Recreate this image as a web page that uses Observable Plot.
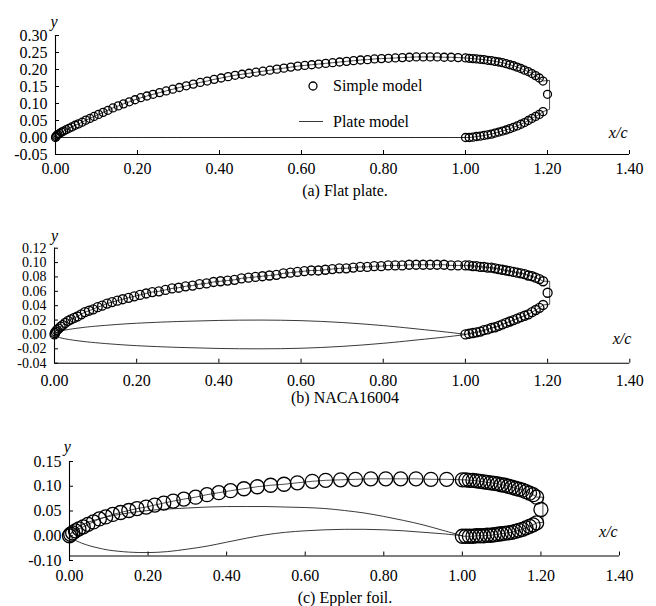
<!DOCTYPE html>
<html>
<head>
<meta charset="utf-8">
<script src="https://cdn.jsdelivr.net/npm/d3@7"></script>
<script src="https://cdn.jsdelivr.net/npm/@observablehq/plot@0.6"></script>
<style>
  body { margin: 0; background: #fff; }
  #fig { position: relative; width: 656px; height: 606px; overflow: hidden;
         font-family: "Liberation Serif", "Times New Roman", serif; color: #000; }
  .panel { position: absolute; left: 0; }
  .caption { position: absolute; left: 225px; width: 240px; text-align: center;
             font-size: 16px; line-height: 20px; }
  #legend { position: absolute; left: 0; top: 0; }
</style>
</head>
<body>
<div id="fig"></div>
<script>
// ---- shared axes ----
const xTickValues = [0, 0.2, 0.4, 0.6, 0.8, 1.0, 1.2, 1.4];
const xTickLabels = ["0.00", "0.20", "0.40", "0.60", "0.80", "1.00", "1.20", "1.40"];

// chordwise stations of the simple-model body (upper side, flat plate and NACA16004)
const bodyUpperX = [0, 0.001, 0.003, 0.006, 0.01, 0.015, 0.02, 0.026, 0.033, 0.04,
  0.048, 0.056, 0.065, 0.074, 0.084, 0.094, 0.105, 0.116, 0.128, 0.14,
  0.153, 0.166, 0.18, 0.194, 0.208, 0.223, 0.238, 0.254, 0.27, 0.286,
  0.302, 0.319, 0.336, 0.353, 0.37, 0.387, 0.404, 0.421, 0.438, 0.455,
  0.472, 0.489, 0.506, 0.523, 0.54, 0.557, 0.574, 0.591, 0.608, 0.625,
  0.642, 0.659, 0.676, 0.693, 0.71, 0.727, 0.744, 0.761, 0.778, 0.795,
  0.812, 0.829, 0.846, 0.863, 0.88, 0.897, 0.914, 0.931, 0.948, 0.965,
  0.982, 1.0];
// stations behind the trailing edge (cavity closure region)
const wakeUpperX = [1.009, 1.018, 1.027, 1.036, 1.045, 1.054, 1.063, 1.072, 1.081, 1.09,
  1.099, 1.108, 1.117, 1.126, 1.135, 1.144, 1.153, 1.162, 1.171, 1.18, 1.189];
const wakeLowerX = [1.0, 1.009, 1.018, 1.027, 1.036, 1.045, 1.054, 1.063, 1.072, 1.081, 1.09,
  1.099, 1.108, 1.117, 1.126, 1.135, 1.144, 1.153, 1.162, 1.171, 1.18, 1.189];
const tipX = 1.2;
const rearX = [1.205, 1.205];

// ---- (a) Flat plate ----
const flatYTicks = [-0.05, 0, 0.05, 0.1, 0.15, 0.2, 0.25, 0.3];
const flatYLabels = ["-0.05", "0.00", "0.05", "0.10", "0.15", "0.20", "0.25", "0.30"];
const flatUpperY = [0, 0.003, 0.006, 0.009, 0.012, 0.016, 0.019, 0.023, 0.027, 0.031,
  0.036, 0.040, 0.045, 0.051, 0.056, 0.062, 0.068, 0.074, 0.080, 0.087,
  0.093, 0.099, 0.105, 0.111, 0.117, 0.122, 0.127, 0.132, 0.137, 0.142,
  0.147, 0.152, 0.157, 0.162, 0.166, 0.171, 0.175, 0.179, 0.183, 0.186,
  0.189, 0.192, 0.195, 0.198, 0.201, 0.204, 0.207, 0.210, 0.212, 0.214,
  0.216, 0.218, 0.220, 0.222, 0.224, 0.226, 0.228, 0.229, 0.231, 0.232,
  0.233, 0.234, 0.235, 0.236, 0.237, 0.237, 0.237, 0.237, 0.236, 0.236,
  0.235, 0.234];
const flatWakeUpperY = [0.233, 0.232, 0.231, 0.230, 0.229, 0.227, 0.226, 0.224, 0.222, 0.220,
  0.217, 0.214, 0.211, 0.207, 0.203, 0.198, 0.194, 0.188, 0.182, 0.175, 0.166];
const flatTipY = 0.127;
const flatWakeLowerY = [0.000, 0.000, 0.001, 0.003, 0.004, 0.006, 0.008, 0.010, 0.013, 0.016, 0.019,
  0.022, 0.026, 0.030, 0.034, 0.039, 0.044, 0.050, 0.056, 0.062, 0.068, 0.076];
const flatRearY = [0.168, 0.083];
const flatFoilX = [0, 1.0];
const flatFoilUpperY = [0, 0];
const flatFoilLowerY = [0, 0];

// ---- (b) NACA16004 ----
const nacaYTicks = [-0.04, -0.02, 0, 0.02, 0.04, 0.06, 0.08, 0.1, 0.12];
const nacaYLabels = ["-0.04", "-0.02", "0.00", "0.02", "0.04", "0.06", "0.08", "0.10", "0.12"];
const nacaUpperY = [0, 0.002, 0.004, 0.006, 0.008, 0.011, 0.013, 0.016, 0.019, 0.021,
  0.023, 0.025, 0.028, 0.031, 0.033, 0.035, 0.038, 0.040, 0.043, 0.045,
  0.047, 0.049, 0.051, 0.053, 0.055, 0.057, 0.059, 0.060, 0.062, 0.064,
  0.065, 0.067, 0.068, 0.070, 0.071, 0.073, 0.074, 0.075, 0.076, 0.078,
  0.079, 0.080, 0.081, 0.082, 0.083, 0.085, 0.086, 0.087, 0.088, 0.089,
  0.089, 0.090, 0.091, 0.092, 0.092, 0.093, 0.094, 0.094, 0.095, 0.095,
  0.096, 0.096, 0.096, 0.097, 0.097, 0.097, 0.097, 0.097, 0.097, 0.096,
  0.096, 0.096];
const nacaWakeUpperY = [0.096, 0.095, 0.095, 0.094, 0.094, 0.093, 0.093, 0.092, 0.091, 0.090,
  0.089, 0.088, 0.087, 0.086, 0.085, 0.084, 0.082, 0.081, 0.079, 0.077, 0.074];
const nacaTipY = 0.058;
const nacaWakeLowerY = [0.000, 0.001, 0.002, 0.003, 0.004, 0.006, 0.007, 0.009, 0.010, 0.012, 0.014,
  0.016, 0.018, 0.020, 0.022, 0.024, 0.026, 0.028, 0.031, 0.034, 0.037, 0.041];
const nacaRearY = [0.074, 0.042];
const nacaFoilX = [0, 0.0125, 0.025, 0.05, 0.075, 0.1, 0.15, 0.2, 0.3, 0.4, 0.5, 0.6, 0.7, 0.8, 0.9, 0.95, 1.0];
const nacaFoilUpperY = [0, 0.0043, 0.0060, 0.0083, 0.0101, 0.0115, 0.0138, 0.0156, 0.0180, 0.0195,
  0.0200, 0.0192, 0.0166, 0.0123, 0.0066, 0.0036, 0.0002];
const nacaFoilLowerY = [0, -0.0043, -0.0060, -0.0083, -0.0101, -0.0115, -0.0138, -0.0156, -0.0180, -0.0195,
  -0.0200, -0.0192, -0.0166, -0.0123, -0.0066, -0.0036, -0.0002];

// ---- (c) Eppler foil ----
const epplerYTicks = [-0.05, 0, 0.05, 0.1, 0.15];
const epplerYLabels = ["-0.10", "0.00", "0.05", "0.10", "0.15"];
const epplerUpperX = [0, 0.003, 0.008, 0.015, 0.024, 0.035, 0.047, 0.061, 0.076, 0.092,
  0.11, 0.13, 0.151, 0.172, 0.195, 0.217, 0.240, 0.264, 0.291, 0.321,
  0.350, 0.380, 0.410, 0.444, 0.478, 0.512, 0.546, 0.580, 0.618, 0.652,
  0.690, 0.728, 0.767, 0.805, 0.843, 0.882, 0.920, 0.960, 1.0];
const epplerUpperY = [0, 0.003, 0.006, 0.010, 0.014, 0.018, 0.023, 0.028, 0.034, 0.038,
  0.043, 0.047, 0.051, 0.055, 0.058, 0.062, 0.066, 0.070, 0.074, 0.078,
  0.083, 0.087, 0.091, 0.095, 0.099, 0.102, 0.104, 0.107, 0.110, 0.112,
  0.113, 0.114, 0.115, 0.115, 0.115, 0.115, 0.114, 0.114, 0.113];
const epplerWakeUpperY = [0.113, 0.112, 0.112, 0.111, 0.110, 0.109, 0.108, 0.107, 0.106, 0.105,
  0.103, 0.102, 0.100, 0.098, 0.096, 0.094, 0.092, 0.089, 0.086, 0.083, 0.078];
const epplerTipY = 0.053;
const epplerWakeLowerY = [-0.001, -0.001, -0.001, -0.001, 0.000, 0.000, 0.000, 0.001, 0.001, 0.002, 0.003,
  0.004, 0.005, 0.006, 0.007, 0.009, 0.011, 0.013, 0.016, 0.019, 0.022, 0.026];
const epplerRearY = [0.078, 0.027];
const epplerFoilX = [0, 0.0125, 0.025, 0.05, 0.075, 0.1, 0.15, 0.2, 0.25, 0.3, 0.35, 0.4,
  0.45, 0.5, 0.55, 0.6, 0.65, 0.7, 0.75, 0.8, 0.85, 0.9, 0.95, 1.0];
const epplerFoilUpperY = [0, 0.012, 0.019, 0.028, 0.034, 0.039, 0.046, 0.051, 0.054, 0.056, 0.058, 0.059,
  0.059, 0.059, 0.058, 0.057, 0.055, 0.051, 0.046, 0.039, 0.031, 0.022, 0.011, 0];
const epplerFoilLowerY = [0, -0.008, -0.013, -0.020, -0.025, -0.029, -0.033, -0.034, -0.032, -0.027, -0.021, -0.013,
  -0.005, 0.002, 0.007, 0.010, 0.012, 0.013, 0.013, 0.012, 0.010, 0.007, 0.004, 0];

const legendLabels = ["Simple model", "Plate model"];

// ---- helpers ----
const zip = (xs, ys) => xs.map((x, i) => ({x, y: ys[i]}));

function bodyPoints(upperX, upperY, wakeUY, tipY, wakeLY) {
  return [...zip(upperX, upperY), ...zip(wakeUpperX, wakeUY), {x: tipX, y: tipY},
          ...zip(wakeLowerX, wakeLY).reverse()];
}
function outlinePoints(upperX, upperY, wakeUY, rearY, wakeLY) {
  return [...zip(upperX, upperY), ...zip(wakeUpperX, wakeUY), ...zip(rearX, rearY),
          ...zip(wakeLowerX, wakeLY).reverse()];
}
function foilPoints(fx, up, lo) {
  return [...zip(fx, up).reverse(), ...zip(fx, lo).slice(1)];
}

const fig = document.getElementById("fig");

function drawPanel(cfg) {
  const yLabelMap = new Map(cfg.yTicks.map((t, i) => [t, cfg.yLabels[i]]));
  const xLabelMap = new Map(xTickValues.map((t, i) => [t, xTickLabels[i]]));
  const chart = Plot.plot({
    width: 656,
    height: cfg.height,
    marginTop: cfg.marginTop,
    marginBottom: cfg.marginBottom,
    marginLeft: cfg.marginLeft,
    marginRight: cfg.marginRight,
    x: {domain: [0, 1.4]},
    y: {domain: cfg.yDomain},
    style: {fontFamily: "'Liberation Serif', 'Times New Roman', serif", fontSize: "16px",
            color: "#000", background: "transparent", overflow: "visible"},
    marks: [
      // plate-model lines: closed body outline and the foil section
      Plot.line(cfg.outline, {x: "x", y: "y", stroke: "#222", strokeWidth: 0.8}),
      Plot.line(cfg.foil, {x: "x", y: "y", stroke: "#222", strokeWidth: 0.9, curve: "catmull-rom"}),
      // simple-model body points
      Plot.dot(cfg.body, {x: "x", y: "y", r: cfg.r, stroke: "#000", strokeWidth: 1.3, fill: "none"}),
      // axis lines
      Plot.ruleX([0], {y1: cfg.yDomain[0], y2: cfg.yDomain[1], stroke: "#000", strokeWidth: 1.1}),
      Plot.ruleY([cfg.xAxisAt], {x1: 0, x2: 1.4, stroke: "#000", strokeWidth: 1.1}),
      // inward tick marks
      Plot.axisY(cfg.yTicks, {tickSize: -4, fill: "none", label: null}),
      Plot.axisX(xTickValues, {tickSize: -4, fill: "none", label: null, dy: cfg.xTickDy}),
      // tick labels
      Plot.axisY(cfg.yTicks, {tickSize: 0, tickPadding: 8, tickFormat: d => yLabelMap.get(d),
                              fontSize: cfg.yFont, label: null}),
      Plot.axisX(xTickValues, {tickSize: 0, tickPadding: cfg.xPad, tickFormat: d => xLabelMap.get(d), label: null}),
      // axis titles
      Plot.text(["y"], {text: d => d, frameAnchor: "top-left", dx: cfg.yTitle[0], dy: cfg.yTitle[1],
                        fontStyle: "italic", fontSize: 16}),
      Plot.text(["x/c"], {text: d => d, frameAnchor: "bottom-right", dx: cfg.xTitle[0], dy: cfg.xTitle[1],
                          fontStyle: "italic", fontSize: 16})
    ]
  });
  chart.classList.add("panel");
  chart.style.top = cfg.top + "px";
  fig.appendChild(chart);

  const cap = document.createElement("div");
  cap.className = "caption";
  cap.style.top = cfg.captionTop + "px";
  cap.textContent = cfg.caption;
  fig.appendChild(cap);
}

drawPanel({
  top: 0, height: 180, marginTop: 35, marginBottom: 26, marginLeft: 55, marginRight: 27,
  yDomain: [-0.05, 0.30], yTicks: flatYTicks, yLabels: flatYLabels, yFont: 16,
  xAxisAt: -0.05, xTickDy: 0, xPad: 8.2, r: 4,
  body: bodyPoints(bodyUpperX, flatUpperY, flatWakeUpperY, flatTipY, flatWakeLowerY),
  outline: outlinePoints(bodyUpperX, flatUpperY, flatWakeUpperY, flatRearY, flatWakeLowerY),
  foil: foilPoints(flatFoilX, flatFoilUpperY, flatFoilLowerY),
  yTitle: [-5, -20], xTitle: [-2, -17],
  caption: "(a) Flat plate.", captionTop: 181
});

drawPanel({
  top: 202, height: 186, marginTop: 45.7, marginBottom: 25.3, marginLeft: 54, marginRight: 26.7,
  yDomain: [-0.04, 0.12], yTicks: nacaYTicks, yLabels: nacaYLabels, yFont: 14,
  xAxisAt: -0.04, xTickDy: 0, xPad: 11.4, r: 4.5,
  body: bodyPoints(bodyUpperX, nacaUpperY, nacaWakeUpperY, nacaTipY, nacaWakeLowerY),
  outline: outlinePoints(bodyUpperX, nacaUpperY, nacaWakeUpperY, nacaRearY, nacaWakeLowerY),
  foil: foilPoints(nacaFoilX, nacaFoilUpperY, nacaFoilLowerY),
  yTitle: [-3.5, -18.7], xTitle: [1.5, -19.4],
  caption: "(b) NACA16004", captionTop: 388
});

drawPanel({
  top: 410, height: 178, marginTop: 51, marginBottom: 28, marginLeft: 69, marginRight: 37,
  yDomain: [-0.05, 0.15], yTicks: epplerYTicks, yLabels: epplerYLabels, yFont: 16,
  xAxisAt: -0.041, xTickDy: -4.5, xPad: 9.6, r: 7,
  body: bodyPoints(epplerUpperX, epplerUpperY, epplerWakeUpperY, epplerTipY, epplerWakeLowerY),
  outline: outlinePoints(epplerUpperX, epplerUpperY, epplerWakeUpperY, epplerRearY, epplerWakeLowerY),
  foil: foilPoints(epplerFoilX, epplerFoilUpperY, epplerFoilLowerY),
  yTitle: [-5.7, -21], xTitle: [-1.8, -23.3],
  caption: "(c) Eppler foil.", captionTop: 588
});

// legend of panel (a)
const ns = "http://www.w3.org/2000/svg";
const leg = document.createElementNS(ns, "svg");
leg.setAttribute("id", "legend");
leg.setAttribute("width", 656);
leg.setAttribute("height", 180);
leg.innerHTML =
  `<circle cx="313" cy="86" r="4" fill="none" stroke="#000" stroke-width="1.3"></circle>` +
  `<line x1="299" x2="323" y1="121.5" y2="121.5" stroke="#222" stroke-width="0.9"></line>` +
  `<text x="333" y="86" dy="0.32em" font-size="16" font-family="'Liberation Serif', serif">${legendLabels[0]}</text>` +
  `<text x="333" y="121.5" dy="0.32em" font-size="16" font-family="'Liberation Serif', serif">${legendLabels[1]}</text>`;
fig.appendChild(leg);
</script>
</body>
</html>
